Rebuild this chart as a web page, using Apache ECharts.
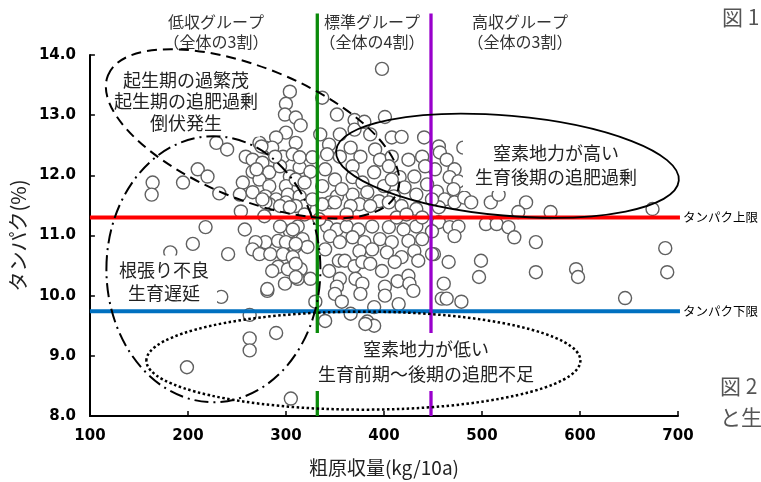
<!DOCTYPE html>
<html><head><meta charset="utf-8">
<script src="https://cdn.jsdelivr.net/npm/echarts@6.0.0/dist/echarts.min.js"></script>
<style>html,body{margin:0;padding:0;background:#fff;}#c{width:761px;height:482px;}</style>
</head><body><div id="c"></div>
<script>
// 粗原収量 (kg/10a)
const yieldKg = [
398,164,163,195,210,220,232,218,205,182,199,258,229,240,241,254,263,263,263,290,305,234,281,299,
304,300,299,310,315,300,310,290,279,273,286,259,266,297,307,276,266,283,294,304,314,256,273,283,300,310,253,266,279,290,302,314,283,270,289,275,
337,352,370,401,335,370,380,386,408,418,441,456,344,355,314,366,376,391,396,408,425,439,452,355,368,325,340,390,405,416,431,442,350,368,378,319,337,400,421,433,368,352,383,410,395,345,375,
457,481,464,472,467,476,454,471,462,472,482,489,509,517,545,537,570,456,456,467,476,504,515,527,472,533,555,451,466,499,497,555,596,598,461,459,464,479,674,687,689,646,
319,337,350,366,386,405,418,433,312,342,352,362,374,388,405,420,433,449,317,345,355,368,380,396,408,425,439,309,322,340,354,375,388,403,418,431,435,449,315,344,360,370,378,386,398,411,312,325,355,371,378,401,414,425,426,430,352,350,376,401,357,390,415,366,340,383,390,381,
279,269,266,273,284,292,304,300,310,297,307,292,302,310,286,310,281,279,300,294,310,278,294,307,319,334,362,413,439,327,342,357,327,408,444,449,423,330,276,304
];
// タンパク (%)
const protein = [
13.77,11.88,11.68,11.88,12.10,11.98,11.70,11.14,10.86,10.72,8.81,11.10,12.54,12.43,10.69,11.40,9.68,9.29,9.09,9.38,8.29,9.98,10.08,10.20,
13.39,13.19,13.01,12.96,12.83,12.71,12.54,12.63,12.46,12.54,12.46,12.31,12.26,12.31,12.35,12.21,12.06,12.05,12.15,11.98,12.13,11.88,11.93,11.82,11.82,11.93,11.68,11.72,11.65,11.60,11.68,11.65,11.52,12.10,12.31,12.48,
13.29,13.01,12.92,12.97,12.68,12.76,12.89,12.68,12.63,12.64,12.63,12.48,12.51,12.68,12.30,12.46,12.31,12.43,12.26,12.31,12.26,12.31,12.10,12.31,12.15,12.06,12.10,12.05,12.15,11.97,11.98,12.15,11.93,11.97,11.88,11.88,11.82,11.82,11.80,11.68,11.68,11.65,11.72,11.65,11.57,11.55,11.52,
12.38,12.46,12.26,12.10,11.97,11.90,11.73,11.77,11.60,11.55,11.63,11.55,11.55,11.68,11.55,11.39,11.39,11.47,11.22,11.14,11.15,11.19,11.19,11.14,10.99,10.97,10.89,10.69,10.56,10.58,10.31,10.39,10.44,10.31,10.20,9.95,9.95,9.90,11.44,10.79,10.39,9.96,
11.49,11.52,11.55,11.49,11.49,11.55,11.49,11.44,11.15,11.15,11.10,11.15,11.10,11.15,11.14,11.10,11.15,11.07,10.94,10.99,10.89,10.97,10.89,10.94,10.89,10.91,10.94,10.81,10.81,10.77,10.58,10.74,10.77,10.72,10.64,10.74,10.58,10.69,10.44,10.41,10.58,10.49,10.56,10.53,10.41,10.56,10.28,10.28,10.28,10.28,10.20,10.15,10.24,10.33,10.20,10.08,10.15,10.03,10.03,10.00,9.90,9.81,9.86,9.70,9.58,9.57,9.50,9.53,
10.89,10.89,10.77,10.69,10.69,10.91,11.07,10.89,10.86,10.69,10.64,10.48,10.44,10.53,10.41,10.31,10.11,11.55,11.55,11.49,11.49,11.32,11.15,11.10,11.35,11.27,11.35,11.30,11.30,12.30,12.35,11.77,11.60,11.93,11.85,11.60,11.35,9.90,11.60,11.47
];
// reference values
const groupBounds = [332, 448];        // 低収/標準, 標準/高収 boundaries (kg/10a)
const proteinUpper = 11.3;             // タンパク上限
const proteinLower = 9.74;             // タンパク下限
const boundTop = 14.69;                // vertical boundary lines extend above axis
const limitLineEnd = 702;
const groupLabels = ['低収グループ\n（全体の3割）', '標準グループ\n（全体の4割）', '高収グループ\n（全体の3割）'];
const xAxisName = '粗原収量(kg/10a)';
const yAxisName = 'タンパク(%)';
// annotation ellipse centres (data units)
const ellipseCenters = [[266, 12.69], [526, 12.16], [226, 10.44], [379, 8.92]];

const points = [];
for (let i = 0; i < Math.min(yieldKg.length, protein.length); i++) points.push([yieldKg[i], protein[i]]);

const chart = echarts.init(document.getElementById('c'), null, {renderer: 'canvas'});
const labelFont = {fontFamily: 'DejaVu Sans', fontWeight: 'bold', fontSize: 15, color: '#000'};
const cjk = '"Noto Sans CJK JP"';

chart.setOption({
  animation: false,
  backgroundColor: '#fff',
  grid: {left: 86, top: 55, width: 592, height: 363},
  xAxis: {
    type: 'value', min: 100, max: 700, interval: 100,
    axisLine: {show: true, lineStyle: {color: '#000', width: 2}},
    axisTick: {show: true, inside: true, length: 5, lineStyle: {color: '#000', width: 1.5}},
    splitLine: {show: false},
    axisLabel: Object.assign({margin: 13}, labelFont),
    name: xAxisName, nameLocation: 'middle', nameGap: 42,
    nameTextStyle: {fontFamily: cjk, fontSize: 19, color: '#222'}
  },
  yAxis: {
    type: 'value', min: 8, max: 14, interval: 1,
    axisLine: {show: true, lineStyle: {color: '#000', width: 2}},
    axisTick: {show: true, inside: true, length: 5, lineStyle: {color: '#000', width: 1.5}},
    splitLine: {show: false},
    axisLabel: Object.assign({margin: 14, formatter: v => v.toFixed(1)}, labelFont),
    name: yAxisName, nameLocation: 'middle', nameGap: 58,
    nameTextStyle: {fontFamily: cjk, fontSize: 20, color: '#222'}
  },
  series: [
    {type: 'scatter', data: points, symbol: 'circle', symbolSize: 13, z: 2, silent: true,
     itemStyle: {color: '#fff', borderColor: '#606060', borderWidth: 1.4, opacity: 1}},
    {type: 'line', data: [[100, proteinUpper], [limitLineEnd, proteinUpper]], symbol: 'none', clip: false, z: 3, silent: true,
     lineStyle: {color: '#ff0000', width: 4}},
    {type: 'line', data: [[100, proteinLower], [limitLineEnd, proteinLower]], symbol: 'none', clip: false, z: 3, silent: true,
     lineStyle: {color: '#0070c0', width: 4}},
    {type: 'line', data: [[groupBounds[0], boundTop], [groupBounds[0], 8]], symbol: 'none', clip: false, z: 4, silent: true,
     lineStyle: {color: '#0a8a0a', width: 3.3}},
    {type: 'line', data: [[groupBounds[1], boundTop], [groupBounds[1], 8]], symbol: 'none', clip: false, z: 4, silent: true,
     lineStyle: {color: '#9900cc', width: 3.3}}
  ]
});

function px(x, y) { return chart.convertToPixel({gridIndex: 0}, [x, y]); }
const deg = Math.PI / 180;
const ellStyles = [
  {r: [156, 66], rot: -22 * deg, style: {lineWidth: 2, lineDash: [10, 6]}},
  {r: [172, 50], rot: -5 * deg, style: {lineWidth: 1.8}},
  {r: [107, 133], rot: 0, style: {lineWidth: 2, lineDash: [14, 5, 2, 5]}},
  {r: [217, 49], rot: 0, style: {lineWidth: 2.5, lineDash: [2.5, 2.5]}}
];
const graphics = [];
ellipseCenters.forEach((c, i) => {
  const p = px(c[0], c[1]);
  const e = ellStyles[i];
  graphics.push({type: 'ellipse', x: p[0], y: p[1], rotation: e.rot, silent: true, z: 30,
    shape: {cx: 0, cy: 0, rx: e.r[0], ry: e.r[1]},
    style: Object.assign({fill: null, stroke: '#000'}, e.style)});
});
function txt(text, x, y, o) {
  graphics.push({type: 'text', x: x, y: y, silent: true, z: o.z || 20,
    style: Object.assign({text: text, align: 'center', verticalAlign: 'middle', fill: '#222'}, o.style)});
}
const groupX = [216, 372, 520];
groupLabels.forEach((t, i) => txt(t, groupX[i], 32, {style: {font: '16px ' + cjk, lineHeight: 20, fill: '#333'}}));
const boxStyle = {font: '18px ' + cjk, backgroundColor: '#fff', fill: '#222'};
txt('起生期の過繁茂\n起生期の追肥過剰\n倒伏発生', 186, 101.5, {style: Object.assign({}, boxStyle, {lineHeight: 21.5, padding: [3, 2]})});
txt('窒素地力が高い\n生育後期の追肥過剰', 556, 165, {style: Object.assign({}, boxStyle, {lineHeight: 24, padding: [2, 12]})});
txt('根張り不良\n生育遅延', 164, 281.5, {style: Object.assign({}, boxStyle, {lineHeight: 23, padding: [3, 8]})});
txt('窒素地力が低い\n生育前期～後期の追肥不足', 426, 362, {style: Object.assign({}, boxStyle, {lineHeight: 25, padding: [4, 8]})});
const up = px(limitLineEnd, proteinUpper), lo = px(limitLineEnd, proteinLower);
txt('タンパク上限', up[0] + 3, up[1], {style: {font: '12.5px ' + cjk, align: 'left', fill: '#000'}});
txt('タンパク下限', lo[0] + 3, lo[1], {style: {font: '12.5px ' + cjk, align: 'left', fill: '#000'}});
txt('図 1', 722, 17, {style: {font: '21px ' + cjk, align: 'left', fill: '#555'}});
txt('図 2', 720, 386, {style: {font: '21px ' + cjk, align: 'left', fill: '#555'}});
txt('と生', 720, 417, {style: {font: '21px ' + cjk, align: 'left', fill: '#555'}});
chart.setOption({graphic: {elements: graphics}});
</script></body></html>
